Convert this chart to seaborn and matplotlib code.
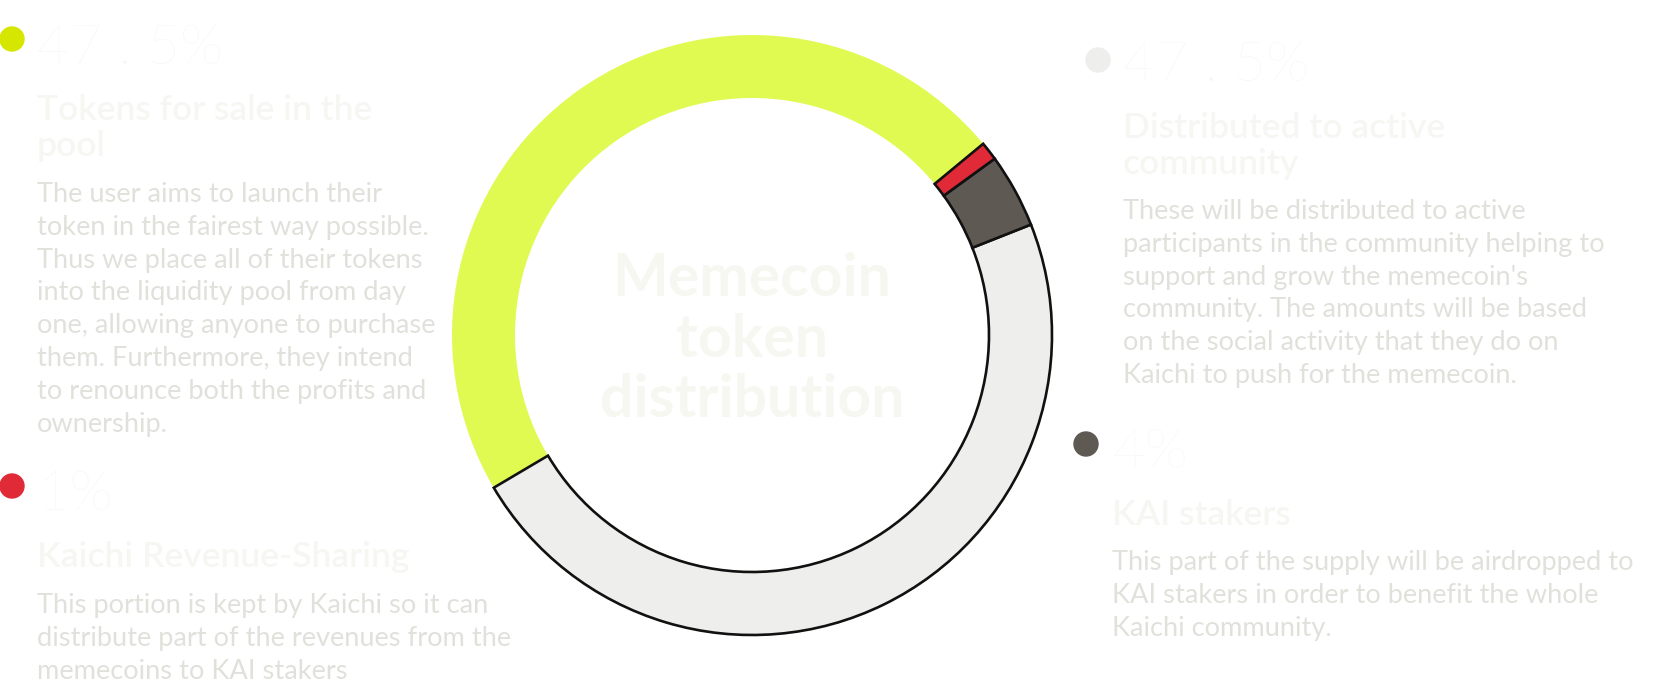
import matplotlib
matplotlib.use("Agg")
import matplotlib.pyplot as plt
from matplotlib.patches import Circle
import seaborn as sns

# ---------------- data ----------------
categories = ["Tokens for sale in the pool", "Distributed to active community",
              "KAI stakers", "Kaichi Revenue-Sharing"]
shares = [47.5, 47.5, 4, 1]
pct_labels = ["47 . 5%", "47 . 5%", "4%", "1%"]
title_lines = [["Tokens for sale in the", "pool"],
               ["Distributed to active", "community"],
               ["KAI stakers"],
               ["Kaichi Revenue-Sharing"]]
body_lines = [
    ["The user aims to launch their",
     "token in the fairest way possible.",
     "Thus we place all of their tokens",
     "into the liquidity pool from day",
     "one, allowing anyone to purchase",
     "them. Furthermore, they intend",
     "to renounce both the profits and",
     "ownership."],
    ["These will be distributed to active",
     "participants in the community helping to",
     "support and grow the memecoin's",
     "community. The amounts will be based",
     "on the social activity that they do on",
     "Kaichi to push for the memecoin."],
    ["This part of the supply will be airdropped to",
     "KAI stakers in order to benefit the whole",
     "Kaichi community."],
    ["This portion is kept by Kaichi so it can",
     "distribute part of the revenues from the",
     "memecoins to KAI stakers"],
]
center_title = ["Memecoin", "token", "distribution"]

# ---------------- style ----------------
wedge_colors = ["#E0FA52", "#EEEEEC", "#5E5953", "#E02A38"]
dot_colors = ["#D5E600", "#EEEEEC", "#5E5953", "#E02A38"]
num_color = "#F6F6F2"
title_color = "#F6F6F2"
body_color = "#E1E1DC"
center_color = "#F7F7F2"

sns.set_theme(style="white")
FONT = "Lato"
plt.rcParams["font.family"] = [FONT, "DejaVu Sans"]

W, H = 1665, 699
fig = plt.figure(figsize=(W / 100, H / 100), dpi=100)
fig.patch.set_facecolor("white")

# donut
cx, cy, R = 752, 335, 300
ax = fig.add_axes([(cx - R) / W, (H - cy - R) / H, 2 * R / W, 2 * R / H])
wedges, _ = ax.pie(shares, colors=wedge_colors, startangle=39.6, counterclock=True,
                   radius=1.0,
                   wedgeprops=dict(width=0.21, edgecolor="#111111", linewidth=1.9))
wedges[0].set_edgecolor("none")
wedges[0].set_linewidth(0)
for w in wedges:
    w.set_clip_on(False)
ax.set_xlim(-1, 1)
ax.set_ylim(-1, 1)
ax.set_aspect("auto")
ax.axis("off")

# overlay in pixel coordinates
ov = fig.add_axes([0, 0, 1, 1], zorder=5)
ov.set_xlim(0, W)
ov.set_ylim(H, 0)
ov.axis("off")
ov.patch.set_alpha(0)

# center title
for txt, yb in zip(center_title, [296, 357, 417]):
    ov.text(cx, yb, txt, ha="center", va="baseline", fontsize=42.5,
            fontweight="bold", color=center_color)

# blocks: (dot_x, dot_y, text_x, num_baseline, title_baseline, body_baseline)
blocks = [
    (12, 39, 37, 65, 120, 202),
    (1098, 60, 1123, 82, 138, 219),
    (1086, 444, 1112, 468, 525, 570),
    (12, 486, 37, 510, 567, 613),
]
TITLE_STEP = 35.5
BODY_STEP = 32.8
for i, (dx, dy, tx, nb, tb, bb) in enumerate(blocks):
    ov.add_patch(Circle((dx, dy), 12, color=dot_colors[i], clip_on=False))
    ov.text(tx, nb, pct_labels[i], ha="left", va="baseline", fontsize=40.5,
            fontweight="light", color=num_color)
    for k, line in enumerate(title_lines[i]):
        ov.text(tx, tb + k * TITLE_STEP, line, ha="left", va="baseline",
                fontsize=25.5, fontweight="semibold", color=title_color)
    for k, line in enumerate(body_lines[i]):
        ov.text(tx, bb + k * BODY_STEP, line, ha="left", va="baseline",
                fontsize=19.6, color=body_color)

fig.savefig("out.png", dpi=100, facecolor="white")
